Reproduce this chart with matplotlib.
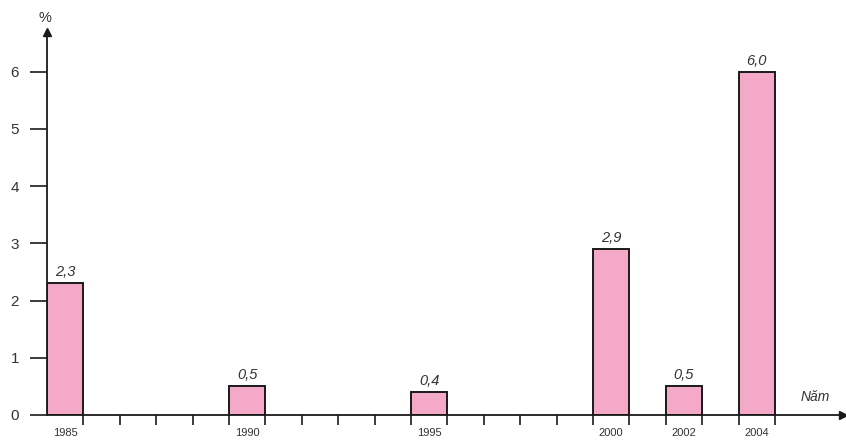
import matplotlib
matplotlib.use("Agg")
import matplotlib.pyplot as plt

years = [1985, 1990, 1995, 2000, 2002, 2004]
values = [2.3, 0.5, 0.4, 2.9, 0.5, 6.0]
labels = ["2,3", "0,5", "0,4", "2,9", "0,5", "6,0"]
yticks = [0, 1, 2, 3, 4, 5, 6]

plt.rcParams["font.family"] = ["Liberation Sans", "DejaVu Sans"]
TXT = "#333333"
PINK = "#F5A9C9"

fig = plt.figure(figsize=(8.46, 4.41), dpi=100)
# axes box: left edge = y-axis at x=47px, bottom = x-axis at y=415px
ax = fig.add_axes([47 / 846, 26 / 441, (843 - 47) / 846, (415 - 32) / 441])
px_year = 36.4
ax.set_xlim(1984.5, 1984.5 + (843 - 47) / px_year)
ax.set_ylim(0, (415 - 32) / 57.2)

ax.bar(years, values, width=1.0, color=PINK, edgecolor="#1a1a1a", lw=1.4, zorder=2)
for x, v, s in zip(years, values, labels):
    ax.annotate(s, (x, v), xytext=(0, 3), textcoords="offset points",
                ha="center", va="bottom", fontsize=10.5, style="italic", color=TXT)

for side in ["top", "right"]:
    ax.spines[side].set_visible(False)
for side in ["left", "bottom"]:
    ax.spines[side].set_linewidth(1.3)
    ax.spines[side].set_color("#1a1a1a")

# arrow heads
ax.plot(1, 0, ">", color="#1a1a1a", ms=6, transform=ax.transAxes, clip_on=False)
ax.plot(0, 1, "^", color="#1a1a1a", ms=6, transform=ax.transAxes, clip_on=False)

ax.set_yticks(yticks)
ax.tick_params(axis="y", length=12, width=1.2, pad=8, labelsize=11, labelcolor=TXT,
               color="#1a1a1a")

# year slot boundaries as ticks, year labels at slot centers
ax.set_xticks([y + 0.5 for y in range(1985, 2005)])
ax.set_xticklabels([])
ax.tick_params(axis="x", which="major", length=7, width=1.2, color="#1a1a1a")
ax.set_xticks(years, minor=True)
ax.set_xticklabels([str(y) for y in years], minor=True)
ax.tick_params(axis="x", which="minor", length=0, pad=9, labelsize=8, labelcolor=TXT)

fig.text(45 / 846, 1 - 18 / 441, "%", ha="center", va="center", fontsize=10.5, color=TXT)
fig.text(815 / 846, 1 - 397 / 441, "Năm", ha="center", va="center", fontsize=10,
         style="italic", color=TXT)

fig.savefig("out.png", dpi=100)
